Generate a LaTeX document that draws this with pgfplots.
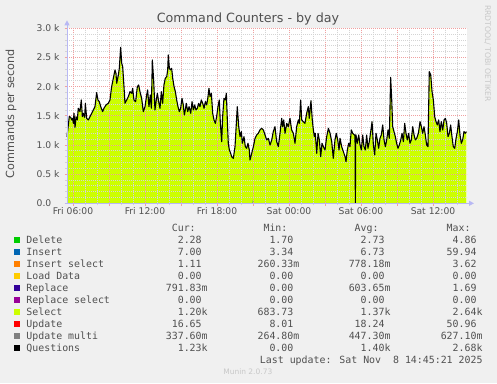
\documentclass[border=0pt]{standalone}
\usepackage{pgfplots}
\pgfplotsset{compat=1.18}
\usepackage{pgfplotstable}
\usepackage{fontspec}
\setmainfont{DejaVu Sans}
\newfontfamily\monofont{DejaVu Sans Mono}
\usetikzlibrary{arrows.meta}
\definecolor{bg}{HTML}{F0F0F0}
\definecolor{txt}{HTML}{505050}
\definecolor{selcol}{HTML}{CCFF00}
\definecolor{mgrid}{HTML}{F0A0A0}
\definecolor{mingrid}{HTML}{D4D4D4}
\definecolor{axcol}{HTML}{B8B8F4}
\definecolor{cdelete}{HTML}{00CC00}
\definecolor{cinsert}{HTML}{0066B3}
\definecolor{cinssel}{HTML}{FF8000}
\definecolor{cload}{HTML}{FFCC00}
\definecolor{creplace}{HTML}{330099}
\definecolor{crepsel}{HTML}{990099}
\definecolor{cupdate}{HTML}{FF0000}
\definecolor{cupmulti}{HTML}{808080}
\definecolor{faint}{HTML}{C8C8C8}

\pgfplotstableread{
h q s
5.50 1143 1143
5.69 1486 1486
5.81 1474 1474
5.89 1429 1429
5.97 1457 1457
6.03 1371 1371
6.08 1543 1543
6.17 1303 1303
6.25 1486 1486
6.36 1429 1429
6.44 1629 1629
6.58 1571 1571
6.69 1771 1771
6.78 1486 1486
6.86 1543 1543
6.97 1474 1474
7.03 1714 1714
7.14 1457 1457
7.28 1429 1429
7.42 1486 1486
7.56 1543 1543
7.69 1600 1600
7.83 1657 1657
7.97 1897 1897
8.08 1771 1771
8.19 1743 1743
8.31 1657 1657
8.47 1571 1571
8.58 1629 1629
8.75 1686 1686
8.94 1714 1714
9.08 1771 1771
9.22 2000 2000
9.36 2143 2143
9.50 2286 2286
9.58 2229 2229
9.64 2057 2057
9.78 2200 2200
9.86 2314 2314
9.97 2674 2674
10.06 2400 2400
10.14 2343 2343
10.25 2000 2000
10.33 1714 1714
10.47 1771 1771
10.61 1829 1829
10.75 1914 1914
10.89 1886 1886
10.97 1971 1971
11.08 1771 1771
11.22 1743 1743
11.36 2000 2000
11.47 2029 2029
11.58 1914 1914
11.72 1800 1800
11.86 1571 1571
12.00 1657 1657
12.14 1857 1857
12.22 1943 1943
12.33 1657 1657
12.44 1857 1857
12.53 1629 1629
12.61 2457 2457
12.72 2114 2114
12.83 1600 1600
12.94 1771 1771
13.03 1886 1886
13.14 1743 1743
13.25 1629 1629
13.36 1914 1914
13.47 1714 1714
13.58 2029 2029
13.69 2143 2143
13.81 2171 2171
13.89 2286 2286
13.94 2543 2543
14.03 2314 2314
14.11 2286 2286
14.22 2314 2314
14.31 2143 2143
14.42 2000 2000
14.53 1914 1914
14.64 1771 1771
14.75 1657 1657
14.86 1571 1571
14.97 1629 1629
15.08 1800 1800
15.19 1686 1686
15.28 1514 1514
15.36 1600 1600
15.44 1714 1714
15.56 1571 1571
15.67 1657 1657
15.81 1543 1543
15.92 1743 1743
16.03 1600 1600
16.14 1686 1686
16.25 1600 1600
16.36 1629 1629
16.47 1714 1714
16.58 1657 1657
16.69 1771 1771
16.81 1714 1714
16.92 1629 1629
17.03 1743 1743
17.14 1686 1686
17.25 1829 1829
17.33 1971 1971
17.42 1829 1829
17.53 1886 1886
17.64 1543 1543
17.75 1429 1429
17.86 1371 1371
17.97 1486 1486
18.08 1657 1657
18.19 1771 1771
18.28 1371 1371
18.39 1057 1057
18.47 1486 1486
18.58 1800 1800
18.69 1771 1771
18.78 1886 1886
18.86 1429 1429
18.94 1029 1029
19.03 914 914
19.14 857 857
19.22 800 800
19.36 771 771
19.50 971 971
19.58 1257 1257
19.69 1657 1657
19.81 1314 1314
19.92 1143 1143
20.03 1229 1229
20.11 1029 1029
20.25 1143 1143
20.36 971 971
20.47 943 943
20.58 1029 1029
20.69 914 914
20.75 743 743
20.89 857 857
21.03 971 971
21.17 1114 1114
21.31 1171 1171
21.44 1200 1200
21.58 1257 1257
21.72 1286 1286
21.86 1257 1257
22.00 1171 1171
22.14 1086 1086
22.28 1114 1114
22.42 1000 1000
22.56 1086 1086
22.69 1229 1229
22.83 1314 1314
22.97 1057 1057
23.11 971 971
23.25 1200 1200
23.39 1457 1457
23.47 1314 1314
23.56 1429 1429
23.67 1200 1200
23.81 1371 1371
23.94 1314 1314
24.08 1457 1457
24.22 1257 1257
24.36 1200 1200
24.50 1029 1029
24.64 1314 1314
24.78 1429 1429
24.86 1371 1371
24.97 1771 1771
25.06 1429 1429
25.19 1400 1400
25.33 1371 1371
25.47 1543 1543
25.61 1657 1657
25.69 1457 1457
25.83 1760 1760
25.94 1429 1429
26.03 1257 1257
26.11 1143 1143
26.19 1200 1200
26.31 857 857
26.42 1200 1200
26.53 1086 1086
26.64 800 800
26.75 1029 1029
26.86 971 971
27.00 914 914
27.14 1143 1143
27.28 1286 1286
27.42 1200 1200
27.56 1057 1057
27.69 771 771
27.83 1086 1086
27.94 1200 1200
28.06 1086 1086
28.17 914 914
28.25 1114 1114
28.39 971 971
28.53 886 886
28.67 800 800
28.75 714 714
28.86 914 914
28.97 1029 1029
29.08 971 971
29.19 1257 1257
29.31 1200 1200
29.44 1171 1171
29.50 1171 1171
29.53 0 1171
29.56 1171 1171
29.58 1171 1171
29.69 1029 1029
29.81 1171 1171
29.92 1000 1000
30.03 914 914
30.14 1171 1171
30.25 971 971
30.36 914 914
30.47 1171 1171
30.58 943 943
30.69 1057 1057
30.81 1229 1229
30.92 1400 1400
31.03 1000 1000
31.14 829 829
31.25 1200 1200
31.36 1086 1086
31.47 943 943
31.58 1114 1114
31.69 1171 1171
31.81 1343 1343
31.92 1086 1086
32.03 971 971
32.14 1086 1086
32.25 1257 1257
32.36 1114 1114
32.47 2160 2160
32.56 1771 1771
32.64 1314 1314
32.75 1229 1229
32.86 1143 1143
32.97 1029 1029
33.08 943 943
33.19 1000 1000
33.31 1086 1086
33.42 1200 1200
33.53 1057 1057
33.64 1371 1371
33.75 1200 1200
33.86 1086 1086
33.97 1200 1200
34.08 1029 1029
34.19 1086 1086
34.31 1314 1314
34.42 1171 1171
34.53 1086 1086
34.64 1114 1114
34.78 1200 1200
34.92 1400 1400
35.03 1314 1314
35.14 1200 1200
35.25 1314 1314
35.36 1171 1171
35.47 1000 1000
35.58 971 971
35.69 2257 2257
35.81 2200 2200
35.92 1914 1914
36.03 1771 1771
36.14 1486 1486
36.25 1400 1400
36.36 1343 1343
36.47 1429 1429
36.58 1229 1229
36.69 1400 1400
36.81 1257 1257
36.92 1429 1429
37.03 1457 1457
37.14 1371 1371
37.25 1143 1143
37.36 1200 1200
37.47 1343 1343
37.58 1143 1143
37.69 971 971
37.81 943 943
37.92 1114 1114
38.03 1229 1229
38.14 1429 1429
38.25 1171 1171
38.36 1029 1029
38.47 1086 1086
38.58 1229 1229
38.69 1200 1200
38.78 1229 1229
}\qdata

\newcommand{\lf}{\monofont\fontsize{9.9bp}{12bp}\selectfont}
\newcommand{\nb}{\hphantom{m}}
\newcommand{\legrow}[7]{%
  \fill[#2] (14,#1-3) rectangle (20,#1+3);
  \node[anchor=base west, inner sep=0pt, text=txt, font=\lf] at (26.3,#1-3.6) {#3};
  \node[anchor=base east, inner sep=0pt, text=txt, font=\lf] at (207.8,#1-3.6) {#4};
  \node[anchor=base east, inner sep=0pt, text=txt, font=\lf] at (299.5,#1-3.6) {#5};
  \node[anchor=base east, inner sep=0pt, text=txt, font=\lf] at (390.7,#1-3.6) {#6};
  \node[anchor=base east, inner sep=0pt, text=txt, font=\lf] at (482.7,#1-3.6) {#7};
}

\begin{document}
\begin{tikzpicture}[x=1bp,y=1bp]
\fill[bg] (0,0) rectangle (497,383);
\useasboundingbox (0,0) rectangle (497,383);
\begin{axis}[
  at={(67bp,179.7bp)}, anchor=south west,
  scale only axis, width=400bp, height=175bp,
  xmin=5.5, xmax=38.8333, ymin=0, ymax=3000,
  axis background/.style={fill=white},
  axis line style={draw=none},
  axis on top,
  xtick={6,9,...,36},
  xticklabels={Fri 06:00,,Fri 12:00,,Fri 18:00,,Sat 00:00,,Sat 06:00,,Sat 12:00},
  minor xtick={7,8,10,11,13,14,16,17,19,20,22,23,25,26,28,29,31,32,34,35,37,38},
  ytick={0,500,...,3000},
  yticklabels={0.0,0.5 k,1.0 k,1.5 k,2.0 k,2.5 k,3.0 k},
  minor ytick={100,200,300,400,600,700,800,900,1100,1200,1300,1400,1600,1700,1800,1900,2100,2200,2300,2400,2600,2700,2800,2900},
  grid=both,
  major grid style={mgrid, line width=0.8bp, dash pattern=on 1bp off 1bp},
  minor grid style={mingrid, line width=0.8bp, dash pattern=on 1bp off 1bp},
  xtick pos=bottom, ytick pos=left,
  tick align=outside,
  major tick length=2.5bp, minor tick length=2bp,
  every major tick/.style={mgrid, line width=0.8bp},
  every minor tick/.style={mingrid, line width=0.8bp},
  ticklabel style={font=\fontsize{9.2bp}{11bp}\selectfont, text=txt},
  xticklabel style={anchor=north, inner sep=0pt, yshift=-2bp},
  yticklabel style={anchor=west, inner sep=0pt, xshift=-28bp},
]
\addplot[fill=selcol, draw=none] table[x=h, y=s] {\qdata} \closedcycle;
\addplot[fill=cinsert, draw=none] coordinates {(20.96,0) (21.0,60) (21.04,0)} \closedcycle;
\end{axis}
\begin{axis}[
  at={(67bp,179.7bp)}, anchor=south west,
  scale only axis, width=400bp, height=175bp,
  xmin=5.5, xmax=38.8333, ymin=0, ymax=3000,
  hide axis, clip=false,
]
\addplot[black, line width=1.1bp, line join=round] table[x=h, y=q] {\qdata};
\draw[axcol, line width=1bp, -{Triangle[length=5bp,width=5bp]}] (rel axis cs:-0.005,0) -- ([xshift=7bp]rel axis cs:1,0);
\draw[axcol, line width=1bp, -{Triangle[length=5bp,width=5bp]}] (rel axis cs:0,0) -- ([yshift=8bp]rel axis cs:0,1);
\end{axis}
% title and labels
\node[anchor=base, inner sep=0pt, text=txt, font=\fontsize{12.7bp}{15bp}\selectfont] at (248,360.5) {Command Counters - by day};
\node[rotate=90, inner sep=0pt, text=txt, font=\fontsize{11.2bp}{13bp}\selectfont] at (11,269.5) {Commands per second};
\node[rotate=-90, inner sep=0pt, text=faint, font=\fontsize{7.7bp}{9bp}\selectfont] at (487.5,329.5) {RRDTOOL/ TOBI OETIKER};
% legend
\node[anchor=base east, inner sep=0pt, text=txt, font=\lf] at (207.8,151.7) {Cur:\hphantom{mm}};
\node[anchor=base east, inner sep=0pt, text=txt, font=\lf] at (299.5,151.7) {Min:\hphantom{mm}};
\node[anchor=base east, inner sep=0pt, text=txt, font=\lf] at (390.7,151.7) {Avg:\hphantom{mm}};
\node[anchor=base east, inner sep=0pt, text=txt, font=\lf] at (482.7,151.7) {Max:\hphantom{mm}};
\legrow{143.3}{cdelete}{Delete}{2.28\nb}{1.70\nb}{2.73\nb}{4.86\nb}
\legrow{131.3}{cinsert}{Insert}{7.00\nb}{3.34\nb}{6.73\nb}{59.94\nb}
\legrow{119.3}{cinssel}{Insert select}{1.11\nb}{260.33m}{778.18m}{3.62\nb}
\legrow{107.3}{cload}{Load Data}{0.00\nb}{0.00\nb}{0.00\nb}{0.00\nb}
\legrow{95.3}{creplace}{Replace}{791.83m}{0.00\nb}{603.65m}{1.69\nb}
\legrow{83.3}{crepsel}{Replace select}{0.00\nb}{0.00\nb}{0.00\nb}{0.00\nb}
\legrow{71.3}{selcol}{Select}{1.20k}{683.73\nb}{1.37k}{2.64k}
\legrow{59.3}{cupdate}{Update}{16.65\nb}{8.01\nb}{18.24\nb}{50.96\nb}
\legrow{47.3}{cupmulti}{Update multi}{337.60m}{264.80m}{447.30m}{627.10m}
\legrow{35.3}{black}{Questions}{1.23k}{0.00\nb}{1.40k}{2.68k}
\node[anchor=base east, inner sep=0pt, text=txt, font=\lf] at (482.7,19.7) {Last update: Sat Nov\ \ 8 14:45:21 2025};
\node[anchor=base, inner sep=0pt, text=faint, font=\fontsize{7.5bp}{9bp}\selectfont] at (247.8,8.3) {Munin 2.0.73};
\end{tikzpicture}
\end{document}
